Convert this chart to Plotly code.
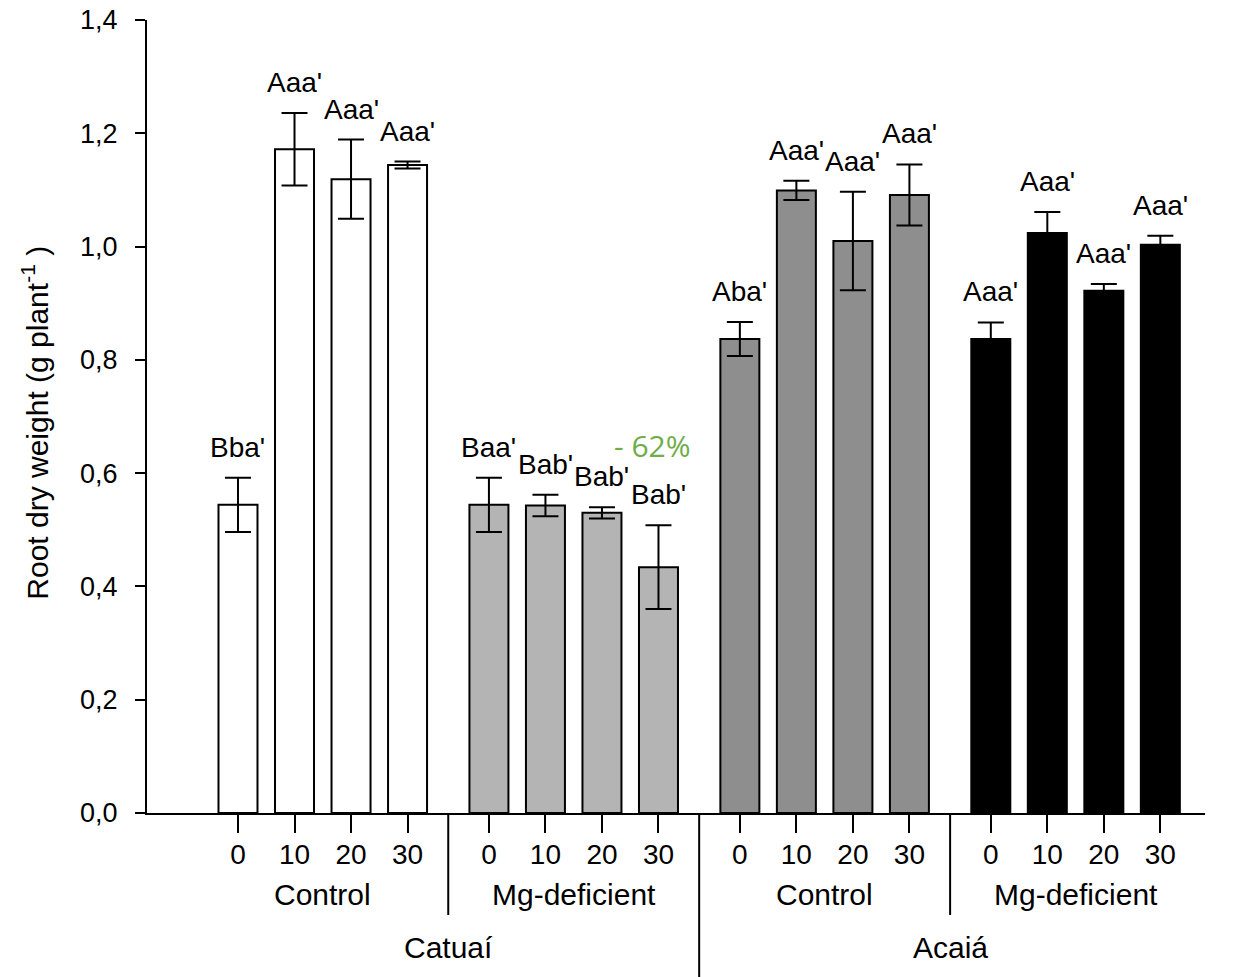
import plotly.graph_objects as go

# Nitrogen doses (x tick labels) and grouping labels
doses = ["0", "10", "20", "30"]
treatments = ["Control", "Mg-deficient", "Control", "Mg-deficient"]
cultivars = ["Catuaí", "Acaiá"]

# Root dry weight (g plant-1), means and standard errors
catuai_control = [0.544, 1.172, 1.119, 1.144]
catuai_control_se = [0.048, 0.064, 0.070, 0.006]
catuai_mg = [0.544, 0.543, 0.530, 0.434]
catuai_mg_se = [0.048, 0.019, 0.010, 0.074]
acaia_control = [0.837, 1.099, 1.010, 1.091]
acaia_control_se = [0.030, 0.017, 0.087, 0.054]
acaia_mg = [0.837, 1.024, 0.922, 1.003]
acaia_mg_se = [0.029, 0.037, 0.012, 0.016]

# Mean-comparison letters
letters_catuai_control = ["Bba'", "Aaa'", "Aaa'", "Aaa'"]
letters_catuai_mg = ["Baa'", "Bab'", "Bab'", "Bab'"]
letters_acaia_control = ["Aba'", "Aaa'", "Aaa'", "Aaa'"]
letters_acaia_mg = ["Aaa'", "Aaa'", "Aaa'", "Aaa'"]

FONT = "Liberation Sans, Arial, sans-serif"
GROUP_STEP = 4.44      # distance between the first bars of consecutive groups
BAR_WIDTH = 0.69

groups = [
    (catuai_control, catuai_control_se, letters_catuai_control, "#ffffff"),
    (catuai_mg, catuai_mg_se, letters_catuai_mg, "#b4b4b4"),
    (acaia_control, acaia_control_se, letters_acaia_control, "#8e8e8e"),
    (acaia_mg, acaia_mg_se, letters_acaia_mg, "#000000"),
]

fig = go.Figure()
annotations = []
tickvals, ticktext = [], []
group_centers = []

for g, (vals, se, letters, color) in enumerate(groups):
    xs = [g * GROUP_STEP + i for i in range(len(doses))]
    group_centers.append(sum(xs) / len(xs))
    tickvals += xs
    ticktext += doses
    fig.add_trace(go.Bar(
        x=xs, y=vals, width=BAR_WIDTH,
        marker=dict(color=color, line=dict(color="black", width=2)),
        error_y=dict(type="data", array=se, visible=True,
                     color="black", thickness=2, width=13),
        showlegend=False, hoverinfo="skip",
    ))
    for x, v, e, t in zip(xs, vals, se, letters):
        annotations.append(dict(
            x=x, y=v + e, xref="x", yref="y", text=t, showarrow=False,
            yanchor="bottom", yshift=13,
            font=dict(family=FONT, size=28, color="black"),
        ))

# Treatment labels under each group
for c, t in zip(group_centers, treatments):
    annotations.append(dict(
        x=c, y=-0.1034, xref="x", yref="paper", text=t, showarrow=False,
        yanchor="middle", font=dict(family=FONT, size=30, color="black"),
    ))

# Cultivar labels under each pair of groups
for k, name in enumerate(cultivars):
    c = (group_centers[2 * k] + group_centers[2 * k + 1]) / 2
    annotations.append(dict(
        x=c, y=-0.170, xref="x", yref="paper", text=name, showarrow=False,
        yanchor="middle", font=dict(family=FONT, size=30, color="black"),
    ))

# Relative change of Mg-deficient vs control Catuaí at the highest dose
change = round((catuai_mg[3] - catuai_control[3]) / catuai_control[3] * 100)
annotations.append(dict(
    x=GROUP_STEP + 3, y=0.648, xref="x", yref="y",
    text=f"- {abs(change)}%", showarrow=False, xshift=-6,
    font=dict(family="Open Sans, sans-serif", size=30, color="#70ad47"),
))

# Y-axis title
annotations.append(dict(
    x=-0.106, y=0.492, xref="paper", yref="paper", textangle=-90,
    text="Root dry weight (g plant<sup>-1</sup> )", showarrow=False,
    xanchor="center", yanchor="middle",
    font=dict(family=FONT, size=30, color="black"),
))

# Separators between groups below the axis
shapes = []
last_x = [GROUP_STEP * g + len(doses) - 1 for g in range(4)]
for g in range(3):
    xm = (last_x[g] + (g + 1) * GROUP_STEP) / 2
    y1 = -0.21 if g == 1 else -0.1286
    shapes.append(dict(type="line", xref="x", yref="paper",
                       x0=xm, x1=xm, y0=0, y1=y1,
                       line=dict(color="black", width=2)))

fig.update_layout(
    width=1258, height=977,
    margin=dict(l=147, r=53, t=20, b=164, autoexpand=False),
    plot_bgcolor="white", paper_bgcolor="white",
    separators=",.",
    barmode="overlay",
    annotations=annotations,
    shapes=shapes,
    font=dict(family=FONT, color="black"),
)

fig.update_xaxes(
    range=[-1.61, 17.11], automargin=False,
    tickvals=tickvals, ticktext=ticktext,
    ticks="outside", ticklen=18, tickwidth=2, tickcolor="black",
    ticklabelstandoff=-3,
    showline=True, linecolor="black", linewidth=2,
    showgrid=False, zeroline=False,
    tickfont=dict(family=FONT, size=28, color="black"),
)

fig.update_yaxes(
    range=[0, 1.4], automargin=False,
    tickvals=[0, 0.2, 0.4, 0.6, 0.8, 1.0, 1.2, 1.4],
    tickformat=".1f",
    ticks="outside", ticklen=10, tickwidth=2, tickcolor="black",
    ticklabelstandoff=12,
    showline=True, linecolor="black", linewidth=2,
    showgrid=False, zeroline=False,
    tickfont=dict(family=FONT, size=27, color="black"),
)

fig.write_html("out.html")
